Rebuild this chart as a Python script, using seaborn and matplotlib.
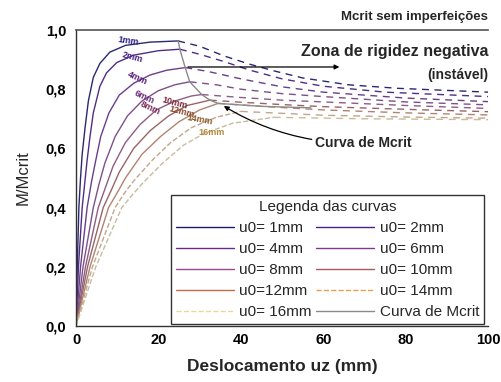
import numpy as np
import pandas as pd
import matplotlib.pyplot as plt
import seaborn as sns
from matplotlib.lines import Line2D

# curve names (imperfection u0)
labels = ['1mm', '2mm', '4mm', '6mm', '8mm', '10mm', '12mm', '14mm', '16mm']
legend_names = ['u0= 1mm', 'u0= 2mm', 'u0= 4mm', 'u0= 6mm', 'u0= 8mm',
                'u0= 10mm', 'u0=12mm', 'u0= 14mm', 'u0= 16mm']
colors = ['#1d1b6b', '#4a1f86', '#66298c', '#7d3a8e', '#99488f',
          '#a9585e', '#c4684c', '#e8a050', '#ecd79a']
line_colors = ['#2a2870', '#4f2e86', '#6a3f8a', '#7d5088', '#8e5d86',
               '#9a6466', '#b08470', '#c2a58e', '#c9bc9c']

# rising (stable) branch of each curve
rise_x = [
    [0, 0.3, 0.7, 1.1, 1.5, 2.2, 3.0, 4.2, 5.8, 8.2, 12, 18, 24.8],
    [0, 0.6, 1.5, 2.1, 2.7, 3.4, 4.2, 5.8, 7.4, 9.9, 14, 20, 25.2],
    [0, 1.1, 2.7, 3.8, 4.8, 6, 8, 10.5, 14, 18, 22, 26.5],
    [0, 1.7, 4.2, 5.6, 7, 9.5, 12.5, 16, 20, 24, 27.6],
    [0, 2.3, 5.4, 7.2, 9, 12, 15.5, 19.5, 24, 28, 30.5],
    [0, 2.8, 6.6, 8.6, 10.5, 14, 18, 22.5, 27, 32.5],
    [0, 3.4, 7.9, 10, 12, 16, 20.5, 25, 30, 34.5],
    [0, 4.0, 9.5, 11.8, 14, 18.5, 23, 28, 34, 40],
    [0, 4.8, 11.1, 13.5, 16, 21, 26, 31, 38, 48],
]
rise_y = [
    [0, 0.2, 0.4, 0.5, 0.58, 0.67, 0.76, 0.84, 0.887, 0.925, 0.948, 0.959, 0.963],
    [0, 0.2, 0.4, 0.48, 0.56, 0.64, 0.72, 0.81, 0.855, 0.89, 0.915, 0.93, 0.935],
    [0, 0.2, 0.4, 0.49, 0.56, 0.64, 0.72, 0.78, 0.82, 0.848, 0.864, 0.873],
    [0, 0.2, 0.4, 0.48, 0.55, 0.64, 0.71, 0.76, 0.795, 0.815, 0.825],
    [0, 0.2, 0.4, 0.47, 0.54, 0.62, 0.68, 0.73, 0.76, 0.777, 0.782],
    [0, 0.2, 0.4, 0.46, 0.52, 0.6, 0.66, 0.71, 0.745, 0.763],
    [0, 0.2, 0.4, 0.45, 0.5, 0.58, 0.64, 0.69, 0.73, 0.752],
    [0, 0.2, 0.4, 0.45, 0.49, 0.56, 0.62, 0.67, 0.705, 0.725],
    [0, 0.2, 0.4, 0.44, 0.48, 0.55, 0.61, 0.65, 0.685, 0.705],
]
# descending (unstable) branch
fall_x = [
    [24.8, 30, 36, 42, 48, 55, 66, 78, 100],
    [25.2, 30, 36, 42, 50, 60, 75, 100],
    [26.5, 32, 40, 50, 60, 80, 100],
    [27.6, 34, 40, 50, 60, 80, 100],
    [30.5, 40, 50, 60, 80, 100],
    [32.5, 40, 50, 60, 80, 100],
    [34.5, 45, 60, 80, 100],
    [40, 60, 80, 100],
    [48, 70, 100],
]
fall_y = [
    [0.963, 0.945, 0.912, 0.885, 0.862, 0.838, 0.815, 0.803, 0.79],
    [0.935, 0.918, 0.893, 0.865, 0.835, 0.81, 0.79, 0.775],
    [0.873, 0.86, 0.835, 0.808, 0.79, 0.77, 0.758],
    [0.825, 0.815, 0.8, 0.785, 0.775, 0.757, 0.747],
    [0.782, 0.772, 0.763, 0.757, 0.745, 0.735],
    [0.763, 0.756, 0.748, 0.741, 0.732, 0.724],
    [0.752, 0.742, 0.73, 0.72, 0.713],
    [0.725, 0.712, 0.706, 0.702],
    [0.705, 0.70, 0.697],
]
# Mcrit curve through the peaks
mcrit_x = [24.8, 25.2, 26.5, 27.6, 30.5, 32.5, 34.5, 45, 57]
mcrit_y = [0.963, 0.935, 0.873, 0.825, 0.782, 0.763, 0.752, 0.742, 0.737]

# inline labels
lab_x = [12.6, 13.8, 14.8, 16.5, 18, 24, 25.7, 30, 33]
lab_y = [0.963, 0.909, 0.838, 0.774, 0.736, 0.753, 0.723, 0.696, 0.652]
lab_rot = [-8, -15, -25, -25, -25, -15, -15, -10, 0]
lab_col = ['#2a1f80', '#4a1f86', '#5a1f7a', '#6a2a7a', '#7a2a5a',
           '#7a2a3a', '#8a4a2a', '#8a5a2a', '#b08a3a']

sns.set_style('white')
plt.rcParams['font.family'] = ['Liberation Sans', 'DejaVu Sans']

fig = plt.figure(figsize=(5.01, 3.82), dpi=100)
ax = fig.add_axes([0.1517, 0.1466, 0.8224, 0.7749])

for i in range(len(labels)):
    ls_rise = '--' if i >= 7 else '-'
    sns.lineplot(x=rise_x[i], y=rise_y[i], ax=ax, color=line_colors[i],
                 lw=1.0, linestyle=ls_rise, estimator=None, sort=False)
    sns.lineplot(x=fall_x[i], y=fall_y[i], ax=ax, color=line_colors[i],
                 lw=1.0, linestyle=(0, (5, 4)), estimator=None, sort=False)

sns.lineplot(x=mcrit_x, y=mcrit_y, ax=ax, color='#8a8a8a', lw=1.0,
             estimator=None, sort=False)

for i in range(len(labels)):
    ax.text(lab_x[i], lab_y[i], labels[i], color=lab_col[i], fontsize=6.5,
            fontweight='bold', rotation=lab_rot[i], ha='center', va='center')

# annotations
ax.text(100, 1.045, 'Mcrit sem imperfeições', ha='right', va='center',
        fontsize=9.5, fontweight='heavy', clip_on=False)
ax.text(100, 0.926, 'Zona de rigidez negativa', ha='right', va='center',
        fontsize=11.5, fontweight='heavy')
ax.text(100, 0.848, '(instável)', ha='right', va='center',
        fontsize=10, fontweight='heavy')
ax.annotate('', xy=(64.6, 0.875), xytext=(26.5, 0.875),
            arrowprops=dict(arrowstyle='-|>', color='black', lw=0.9,
                            mutation_scale=7))
ax.annotate('Curva de Mcrit', xy=(35.3, 0.748), xytext=(58, 0.618),
            ha='left', va='center', fontsize=10, fontweight='heavy',
            arrowprops=dict(arrowstyle='-|>', color='black', lw=0.9,
                            mutation_scale=7, shrinkA=0,
                            connectionstyle='arc3,rad=-0.15'))

# legend filled row by row
handles = []
names = []
for i in [0, 2, 4, 6, 8]:
    handles.append(Line2D([], [], color=colors[i], lw=1.0,
                          ls='--' if i >= 7 else '-'))
    names.append(legend_names[i])
for i in [1, 3, 5, 7]:
    handles.append(Line2D([], [], color=colors[i], lw=1.0,
                          ls='--' if i >= 7 else '-'))
    names.append(legend_names[i])
handles.append(Line2D([], [], color='#8a8a8a', lw=1.0))
names.append('Curva de Mcrit')
leg = ax.legend(handles, names, ncol=2, title='Legenda das curvas',
                loc='lower right', bbox_to_anchor=(0.99, 0.008),
                fontsize=11, title_fontsize=11, frameon=True, fancybox=False,
                edgecolor='black', handlelength=3.8, columnspacing=0.3,
                labelspacing=0.46, borderpad=0.3, handletextpad=0.35,
                borderaxespad=0)
leg.get_frame().set_linewidth(1.0)

ax.set_xlim(0, 100)
ax.set_ylim(0, 1.0)
ax.set_xticks([0, 20, 40, 60, 80, 100])
ax.set_xticks([10, 30, 50, 70, 90], minor=True)
ax.set_yticks([0, 0.2, 0.4, 0.6, 0.8, 1.0])
ax.set_yticklabels(['0,0', '0,2', '0,4', '0,6', '0,8', '1,0'])
ax.set_yticks([0.1, 0.3, 0.5, 0.7, 0.9], minor=True)
for t in ax.get_xticklabels() + ax.get_yticklabels():
    t.set_fontweight('heavy')
    t.set_fontsize(10.5)
ax.tick_params(axis='x', which='both', direction='in', length=4, width=1,
               colors='#333333', labelcolor='black', pad=5)
ax.tick_params(axis='y', which='major', direction='out', length=4, width=1,
               colors='#333333', labelcolor='black', pad=3)
ax.tick_params(axis='y', which='minor', direction='out', length=2.5, width=1,
               colors='#333333')
ax.tick_params(axis='x', which='minor', length=3)

ax.set_xlabel('Deslocamento uz (mm)', fontsize=12.5, fontweight='heavy',
              labelpad=9)
ax.set_ylabel('M/Mcrit', fontsize=12, labelpad=11)

for s in ['left', 'bottom']:
    ax.spines[s].set_color('#333333')
    ax.spines[s].set_linewidth(1.0)
ax.spines['top'].set_color('#555555')
ax.spines['top'].set_linewidth(1.2)
ax.spines['right'].set_visible(False)

fig.savefig('out.png', dpi=100)
